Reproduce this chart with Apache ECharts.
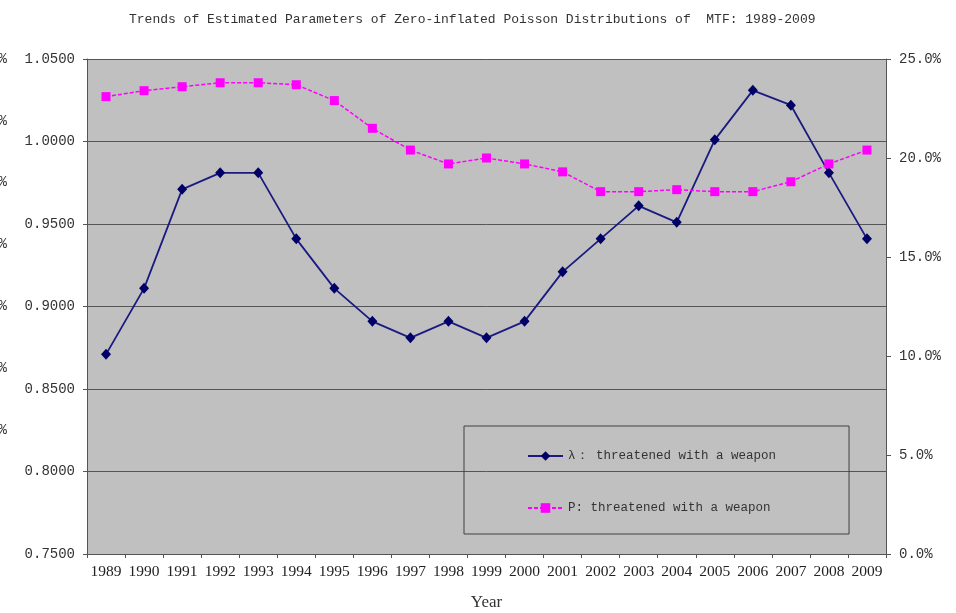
<!DOCTYPE html>
<html>
<head>
<meta charset="utf-8">
<script src="https://cdn.jsdelivr.net/npm/echarts@6/dist/echarts.min.js"></script>
<style>
html,body{margin:0;padding:0;background:#fff;}
#chart{width:956px;height:613px;}
</style>
</head>
<body>
<div id="chart"></div>
<script>
const years = ['1989','1990','1991','1992','1993','1994','1995','1996','1997','1998','1999','2000','2001','2002','2003','2004','2005','2006','2007','2008','2009'];
const lambdaValues = [0.871,0.911,0.971,0.981,0.981,0.941,0.911,0.891,0.881,0.891,0.881,0.891,0.921,0.941,0.961,0.951,1.001,1.031,1.022,0.981,0.941];
const pValues = [23.1,23.4,23.6,23.8,23.8,23.7,22.9,21.5,20.4,19.7,20.0,19.7,19.3,18.3,18.3,18.4,18.3,18.3,18.8,19.7,20.4];
const lambdaName = 'λ： threatened with a weapon';
const pName = 'P: threatened with a weapon';
const titleText = 'Trends of Estimated Parameters of Zero-inflated Poisson Distributions of  MTF: 1989-2009';
const xAxisName = 'Year';

const mono = '"Liberation Mono", "DejaVu Sans Mono", monospace';
const serif = '"Liberation Serif", "DejaVu Serif", serif';
const axisColor = '#555';

const chart = echarts.init(document.getElementById('chart'), null, {renderer:'canvas'});
chart.setOption({
  animation: false,
  backgroundColor: '#ffffff',
  title: {
    text: titleText,
    left: 124, top: 8,
    textStyle: {fontFamily: mono, fontSize: 13, fontWeight: 'normal', color: '#333'}
  },
  grid: {
    left: 87, right: 70, top: 59, bottom: 59,
    outerBoundsMode: 'none',
    containLabel: false,
    show: true, backgroundColor: '#c0c0c0', borderWidth: 0
  },
  legend: {
    orient: 'vertical',
    left: 464, top: 426,
    padding: [23, 73, 19, 63],
    itemGap: 38,
    itemWidth: 35, itemHeight: 12,
    borderColor: '#404040', borderWidth: 1,
    textStyle: {fontFamily: mono, fontSize: 12.5, color: '#333', lineHeight: 14},
    data: [lambdaName, pName]
  },
  xAxis: {
    type: 'category',
    data: years,
    boundaryGap: true,
    name: xAxisName,
    nameLocation: 'middle',
    nameGap: 40,
    nameTextStyle: {fontFamily: serif, fontSize: 17, color: '#333'},
    axisLine: {lineStyle: {color: axisColor, width: 1}},
    axisTick: {show: true, interval: 0, length: 4, lineStyle: {color: axisColor}},
    axisLabel: {interval: 0, margin: 10, fontFamily: serif, fontSize: 15.5, color: '#222'},
    splitLine: {show: false}
  },
  yAxis: [
    {
      type: 'value', position: 'left',
      min: 0.75, max: 1.05, interval: 0.05,
      axisLine: {show: true, lineStyle: {color: axisColor, width: 1}},
      axisTick: {show: true, length: 4, lineStyle: {color: axisColor}},
      axisLabel: {margin: 12, fontFamily: mono, fontSize: 14, color: '#333',
        formatter: v => v.toFixed(4)},
      splitLine: {show: true, lineStyle: {color: '#555', width: 1}}
    },
    {
      type: 'value', position: 'right',
      min: 0, max: 25, interval: 5,
      axisLine: {show: true, lineStyle: {color: axisColor, width: 1}},
      axisTick: {show: true, length: 5, lineStyle: {color: axisColor}},
      axisLabel: {margin: 13, fontFamily: mono, fontSize: 14, color: '#333',
        formatter: v => v.toFixed(1) + '%'},
      splitLine: {show: false}
    },
    {
      type: 'value', position: 'left', offset: 0,
      min: 0, max: 40, interval: 5,
      axisLine: {show: false},
      axisTick: {show: false},
      axisLabel: {margin: 122, align: 'left', fontFamily: mono, fontSize: 14, color: '#333',
        formatter: v => v.toFixed(1) + '%'},
      splitLine: {show: false}
    }
  ],
  series: [
    {
      name: lambdaName,
      type: 'line',
      yAxisIndex: 0,
      data: lambdaValues,
      symbol: 'diamond',
      symbolSize: [10, 11],
      showAllSymbol: true,
      lineStyle: {color: '#1a1a80', width: 1.8},
      itemStyle: {color: '#000066'},
      z: 3
    },
    {
      name: pName,
      type: 'line',
      yAxisIndex: 1,
      data: pValues,
      symbol: 'rect',
      symbolSize: 9,
      showAllSymbol: true,
      lineStyle: {color: '#ff00ff', width: 1.5, type: [4, 2]},
      itemStyle: {color: '#ff00ff'},
      z: 4
    }
  ]
});
</script>
</body>
</html>
